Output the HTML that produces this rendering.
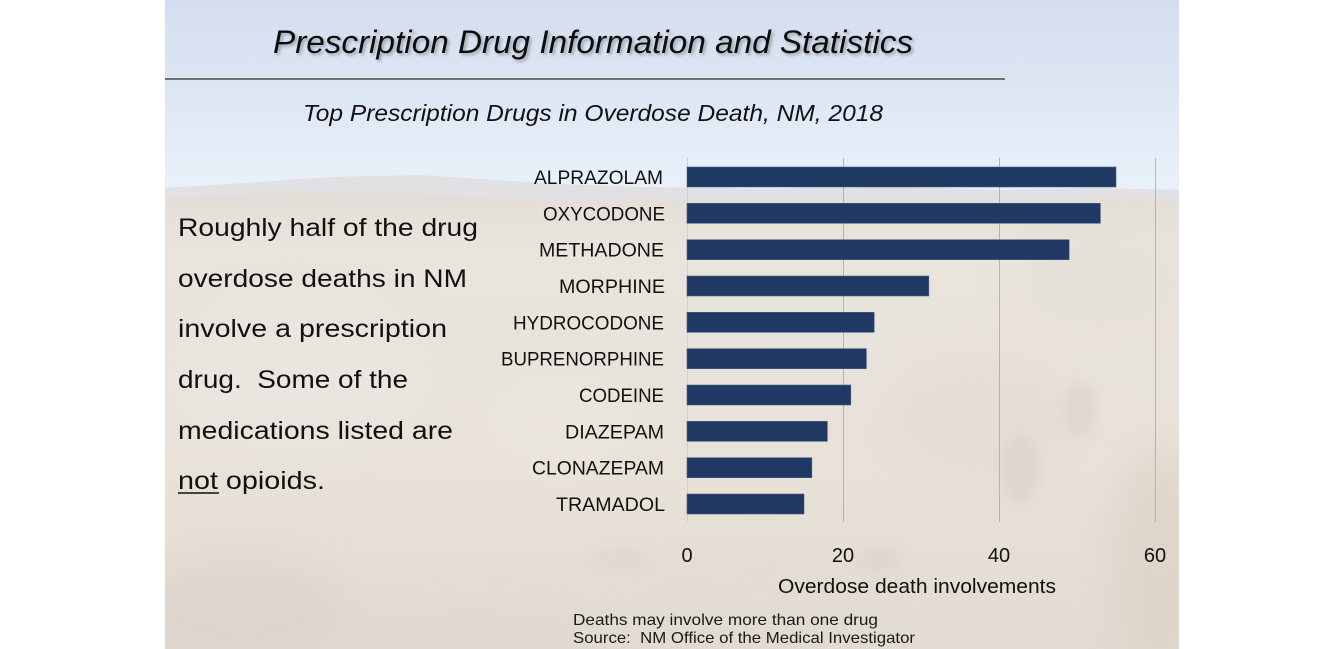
<!DOCTYPE html>
<html>
<head>
<meta charset="utf-8">
<style>
  html,body{margin:0;padding:0;background:#fff;}
  body{width:1332px;height:649px;overflow:hidden;}
  svg{display:block;}
  text{font-family:"Liberation Sans", sans-serif;}
</style>
</head>
<body>
<svg width="1332" height="649" viewBox="0 0 1332 649" xmlns="http://www.w3.org/2000/svg">
  <defs>
    <linearGradient id="sky" gradientUnits="userSpaceOnUse" x1="0" y1="0" x2="0" y2="200">
      <stop offset="0" stop-color="#d4deef"/>
      <stop offset="0.45" stop-color="#dde6f3"/>
      <stop offset="0.85" stop-color="#e7eff9"/>
      <stop offset="1" stop-color="#eaf1f9"/>
    </linearGradient>
    <linearGradient id="land" gradientUnits="userSpaceOnUse" x1="0" y1="190" x2="0" y2="649">
      <stop offset="0" stop-color="#e2ddd6"/>
      <stop offset="0.12" stop-color="#e9e4dc"/>
      <stop offset="0.6" stop-color="#e8e2d9"/>
      <stop offset="1" stop-color="#e2dbd1"/>
    </linearGradient>
    <filter id="blur" x="-50%" y="-50%" width="200%" height="200%">
      <feGaussianBlur stdDeviation="18"/>
    </filter>
    <filter id="blur2" x="-50%" y="-50%" width="200%" height="200%">
      <feGaussianBlur stdDeviation="6"/>
    </filter>
    <filter id="shadow" x="-5%" y="-30%" width="110%" height="160%">
      <feDropShadow dx="2" dy="2" stdDeviation="1.6" flood-color="#000" flood-opacity="0.3"/>
    </filter>
    <clipPath id="slide"><rect x="165" y="0" width="1014" height="649"/></clipPath>
  </defs>

  <!-- slide background -->
  <g clip-path="url(#slide)">
    <rect x="165" y="0" width="1014" height="649" fill="url(#sky)"/>
    <!-- distant mountains -->
    <path d="M165 188 L260 182 L330 177 L420 175 L480 179 L560 184 L640 187 L760 189 L900 187 L1000 190 L1100 188 L1179 190 L1179 240 L165 240 Z" fill="#dedcdc" opacity="0.8"/>
    <!-- terrain -->
    <path d="M165 197 L300 193 L450 195 L560 202 L700 200 L850 198 L1000 202 L1100 198 L1179 200 L1179 649 L165 649 Z" fill="url(#land)"/>
    <!-- texture patches -->
    <g filter="url(#blur)">
      <ellipse cx="240" cy="615" rx="110" ry="55" fill="#d9d3ca" opacity="0.7"/>
      <ellipse cx="470" cy="640" rx="120" ry="30" fill="#ddd7ce" opacity="0.6"/>
      <ellipse cx="1160" cy="560" rx="45" ry="110" fill="#dbcfc3" opacity="0.6"/>
      <ellipse cx="980" cy="420" rx="90" ry="60" fill="#e2dacf" opacity="0.5"/>
      <ellipse cx="760" cy="600" rx="120" ry="40" fill="#e3dcd2" opacity="0.5"/>
      <ellipse cx="560" cy="420" rx="80" ry="50" fill="#ece7df" opacity="0.6"/>
      <ellipse cx="300" cy="380" rx="140" ry="80" fill="#ece8e1" opacity="0.5"/>
      <ellipse cx="1100" cy="280" rx="80" ry="40" fill="#e4ded4" opacity="0.5"/>
    </g>
    <g filter="url(#blur2)" opacity="0.35">
      <ellipse cx="1020" cy="470" rx="18" ry="35" fill="#cfc6bb"/>
      <ellipse cx="1080" cy="410" rx="16" ry="28" fill="#cfc6bb"/>
      <ellipse cx="880" cy="560" rx="22" ry="12" fill="#d2cabf"/>
      <ellipse cx="620" cy="560" rx="28" ry="10" fill="#d6cfc5"/>
    </g>
  </g>

  <!-- Title -->
  <text x="273" y="53" font-size="32" font-style="italic" fill="#111" textLength="640" lengthAdjust="spacingAndGlyphs" filter="url(#shadow)">Prescription Drug Information and Statistics</text>
  <line x1="165" y1="79" x2="1005" y2="79" stroke="#4a4a4a" stroke-width="1.6"/>

  <!-- Subtitle -->
  <text x="303" y="121" font-size="23" font-style="italic" fill="#111" textLength="580" lengthAdjust="spacingAndGlyphs">Top Prescription Drugs in Overdose Death, NM, 2018</text>

  <!-- Left paragraph -->
  <g font-size="25" fill="#111">
    <text x="178" y="236" textLength="300" lengthAdjust="spacingAndGlyphs">Roughly half of the drug</text>
    <text x="178" y="287" textLength="289" lengthAdjust="spacingAndGlyphs">overdose deaths in NM</text>
    <text x="178" y="337" textLength="269" lengthAdjust="spacingAndGlyphs">involve a prescription</text>
    <text x="178" y="388" textLength="230" lengthAdjust="spacingAndGlyphs" xml:space="preserve">drug.  Some of the</text>
    <text x="178" y="439" textLength="275" lengthAdjust="spacingAndGlyphs">medications listed are</text>
    <text x="178" y="489" textLength="147" lengthAdjust="spacingAndGlyphs">not opioids.</text>
  </g>
  <line x1="178" y1="493" x2="219" y2="493" stroke="#111" stroke-width="1.5"/>

  <!-- Gridlines -->
  <g stroke="#b4b4b4" stroke-width="1">
    <line x1="687.5" y1="158" x2="687.5" y2="522" stroke="#d0d0d0"/>
    <line x1="843.5" y1="158" x2="843.5" y2="522"/>
    <line x1="999.5" y1="158" x2="999.5" y2="522"/>
    <line x1="1155.5" y1="158" x2="1155.5" y2="522"/>
  </g>

  <!-- Bars -->
  <g fill="#1f3864" stroke="#4a5f85" stroke-width="0.6">
    <rect x="687" y="167" width="429" height="20"/>
    <rect x="687" y="203.3" width="413.4" height="20"/>
    <rect x="687" y="239.7" width="382.2" height="20"/>
    <rect x="687" y="276" width="241.8" height="20"/>
    <rect x="687" y="312.3" width="187.2" height="20"/>
    <rect x="687" y="348.7" width="179.4" height="20"/>
    <rect x="687" y="385" width="163.8" height="20"/>
    <rect x="687" y="421.3" width="140.4" height="20"/>
    <rect x="687" y="457.7" width="124.8" height="20"/>
    <rect x="687" y="494" width="117" height="20"/>
  </g>

  <!-- Category labels -->
  <g font-size="19" fill="#111">
    <text x="534" y="184" textLength="129" lengthAdjust="spacingAndGlyphs">ALPRAZOLAM</text>
    <text x="543" y="220.3" textLength="122" lengthAdjust="spacingAndGlyphs">OXYCODONE</text>
    <text x="539" y="256.7" textLength="125" lengthAdjust="spacingAndGlyphs">METHADONE</text>
    <text x="559" y="293" textLength="106" lengthAdjust="spacingAndGlyphs">MORPHINE</text>
    <text x="513" y="329.3" textLength="151" lengthAdjust="spacingAndGlyphs">HYDROCODONE</text>
    <text x="501" y="365.7" textLength="163" lengthAdjust="spacingAndGlyphs">BUPRENORPHINE</text>
    <text x="579" y="402" textLength="85" lengthAdjust="spacingAndGlyphs">CODEINE</text>
    <text x="565" y="438.3" textLength="99" lengthAdjust="spacingAndGlyphs">DIAZEPAM</text>
    <text x="532" y="474.7" textLength="132" lengthAdjust="spacingAndGlyphs">CLONAZEPAM</text>
    <text x="556" y="511" textLength="109" lengthAdjust="spacingAndGlyphs">TRAMADOL</text>
  </g>

  <!-- Tick labels -->
  <g font-size="20" fill="#111" text-anchor="middle">
    <text x="687" y="562">0</text>
    <text x="843" y="562">20</text>
    <text x="999" y="562">40</text>
    <text x="1155" y="562">60</text>
  </g>
  <text x="778" y="593" font-size="20" fill="#111" textLength="278" lengthAdjust="spacingAndGlyphs">Overdose death involvements</text>

  <!-- Footnote -->
  <g font-size="16" fill="#1a1a1a">
    <text x="573" y="625" textLength="305" lengthAdjust="spacingAndGlyphs">Deaths may involve more than one drug</text>
    <text x="573" y="643" textLength="342" lengthAdjust="spacingAndGlyphs" xml:space="preserve">Source:  NM Office of the Medical Investigator</text>
  </g>
</svg>
</body>
</html>
